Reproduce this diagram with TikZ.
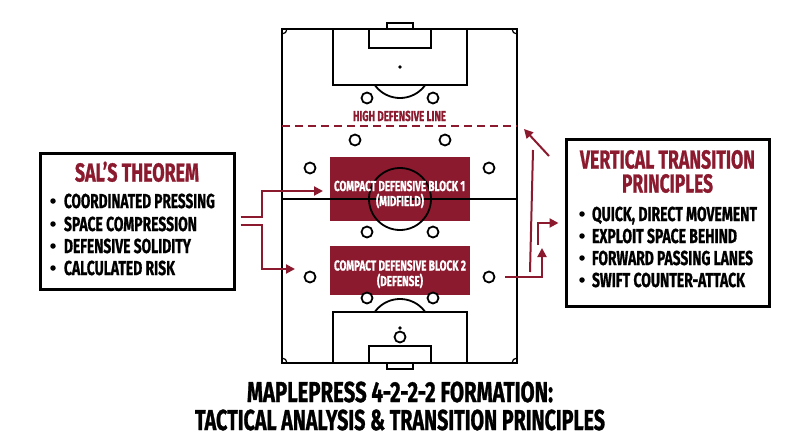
\documentclass[tikz,border=0pt]{standalone}
\usepackage{fontspec}
\usepackage{graphicx}
\setmainfont{Fira Sans}[BoldFeatures={FakeBold=1.2}]
\usetikzlibrary{arrows.meta,calc}
\definecolor{maroon}{RGB}{139,26,46}
\newcommand\fittext[3]{\resizebox{#1pt}{#2pt}{\bfseries\vphantom{H}\smash{#3}}}
\tikzset{
  pitchline/.style={line width=1.8pt, black},
  player/.style={circle, draw=black, line width=1.8pt, fill=white, minimum size=11pt, inner sep=0pt},
  infobox/.style={draw=black, line width=3pt, fill=white, inner sep=0pt},
  blockbox/.style={fill=maroon, draw=none, inner sep=0pt},
  txt/.style={inner sep=0pt, outer sep=0pt},
  flow/.style={draw=maroon, line width=2pt, -{Triangle[length=9pt,width=9pt]}},
  flowline/.style={draw=maroon, line width=2pt},
  bulletdot/.style={circle, fill=black, minimum size=5.5pt, inner sep=0pt}
}
\begin{document}
\begin{tikzpicture}[x=1pt,y=-1pt]
\useasboundingbox (0,0) rectangle (800,447);
\fill[white] (0,0) rectangle (800,447);

% ---------- pitch ----------
\draw[pitchline] (282,29) rectangle (517,363);
\draw[pitchline] (387,23) rectangle (413,29);
\draw[pitchline] (333,29) rectangle (467,85);
\draw[pitchline] (369,29) rectangle (431,48);
\fill (400,67) circle (1.8);
\begin{scope}
  \clip (333,86) rectangle (467,110);
  \draw[pitchline] (400,67) circle (31);
\end{scope}
\draw[pitchline] (333,312) rectangle (467,363);
\draw[pitchline] (369,346) rectangle (431,363);
\draw[pitchline] (387,363) rectangle (413,369);
\fill (400,328) circle (1.8);
\begin{scope}
  \clip (333,290) rectangle (467,311);
  \draw[pitchline] (400,330) circle (31);
\end{scope}
% corner arcs
\begin{scope}
  \clip (282,29) rectangle (517,363);
  \foreach \cx/\cy in {282/29,517/29,282/363,517/363}
    \draw[line width=1.2pt] (\cx,\cy) circle (5);
\end{scope}

% red blocks
\node[blockbox, minimum width=140pt, minimum height=64pt] (blk1) at (400,189) {};
\node[blockbox, minimum width=140pt, minimum height=49pt] (blk2) at (400,270.5) {};

% halfway line and centre circle over block 1
\draw[pitchline] (282,199) -- (517,199);
\draw[pitchline] (400,199) circle (31);

% high defensive line
\draw[maroon, line width=2pt, dash pattern=on 8pt off 5pt] (282,126) -- (517,126);
\node[txt, anchor=base, text=maroon] (hdl) at (399.5,121) {\fittext{93}{10}{HIGH DEFENSIVE LINE}};

% block texts
\node[txt, anchor=base, text=white] (b1a) at (399.5,191) {\fittext{131}{10}{COMPACT DEFENSIVE BLOCK 1}};
\node[txt, anchor=base, text=white] (b1b) at (400,206) {\fittext{48}{10}{(MIDFIELD)}};
\node[txt, anchor=base, text=white] (b2a) at (400,270.5) {\fittext{132}{10}{COMPACT DEFENSIVE BLOCK 2}};
\node[txt, anchor=base, text=white] (b2b) at (400,286) {\fittext{46}{10}{(DEFENSE)}};

% players
\foreach \px/\py/\nm in {367/98/p1,433/98/p2,355/140/p3,445/140/p4,310/168/p5,489/168/p6,367/232/p7,433/232/p8,310/277/p9,489/277/p10,367/298/p11,433/298/p12,400/337/p13}
  \node[player] (\nm) at (\px,\py) {};

% ---------- left box ----------
\node[infobox, minimum width=194pt, minimum height=136pt] (lbox) at (137,221) {};
\node[txt, anchor=base, text=maroon] (lt) at (137,181.5) {\fittext{124}{18}{SAL'S THEOREM}};
\foreach \yy/\ww/\tt [count=\i] in {208/151/COORDINATED PRESSING,231/133/SPACE COMPRESSION,253/127/DEFENSIVE SOLIDITY,275/111/CALCULATED RISK}{
  \node[bulletdot] (lb\i) at (53,\yy-7) {};
  \node[txt, anchor=base west] (li\i) at (64,\yy) {\fittext{\ww}{14}{\tt}};
}

% ---------- right box ----------
\node[infobox, minimum width=203pt, minimum height=167pt] (rbox) at (667.5,222.5) {};
\node[txt, anchor=base, text=maroon] (rt1) at (667.5,168.5) {\fittext{175}{18}{VERTICAL TRANSITION}};
\node[txt, anchor=base, text=maroon] (rt2) at (667.5,192.5) {\fittext{91}{18}{PRINCIPLES}};
\foreach \yy/\ww/\tt [count=\i] in {221/165/{QUICK, DIRECT MOVEMENT},243/145/EXPLOIT SPACE BEHIND,265/161/FORWARD PASSING LANES,287/153/SWIFT COUNTER-ATTACK}{
  \node[bulletdot] (rb\i) at (582,\yy-7) {};
  \node[txt, anchor=base west] (ri\i) at (592,\yy) {\fittext{\ww}{14}{\tt}};
}

% ---------- title ----------
\node[txt, anchor=base] (ti1) at (400,402) {\fittext{306}{20}{MAPLEPRESS 4-2-2-2 FORMATION:}};
\node[txt, anchor=base] (ti2) at (400,430) {\fittext{410}{20}{TACTICAL ANALYSIS \& TRANSITION PRINCIPLES}};

% ---------- connectors ----------
\coordinate (ls1) at ($(lbox.east)+(5,-4)$);
\coordinate (ls2) at ($(lbox.east)+(5,4)$);
\coordinate (lt1) at (323,191);
\coordinate (lt2) at (295,269);
\draw[flow] (ls1) -- (262,217) |- (lt1);
\draw[flow] (ls2) -- (262,225) |- (lt2);

\coordinate (rs1) at ($(p10.east)+(10,0)$);
\coordinate (rt1a) at (542,248);
\draw[flow] (rs1) -| (rt1a);
\coordinate (rs2) at (538,245);
\coordinate (h223) at (0,223);
\coordinate (rt2a) at ($(rbox.west |- h223)+(-6,0)$);
\draw[flow] (rs2) |- (rt2a);
\coordinate (rv1) at (530,272);
\coordinate (rv2) at (533,150);
\draw[flowline] (rv1) -- (rv2);
\coordinate (rd1) at (549,156);
\coordinate (rd2) at (524,129);
\draw[flow] (rd1) -- (rd2);
\end{tikzpicture}
\end{document}
